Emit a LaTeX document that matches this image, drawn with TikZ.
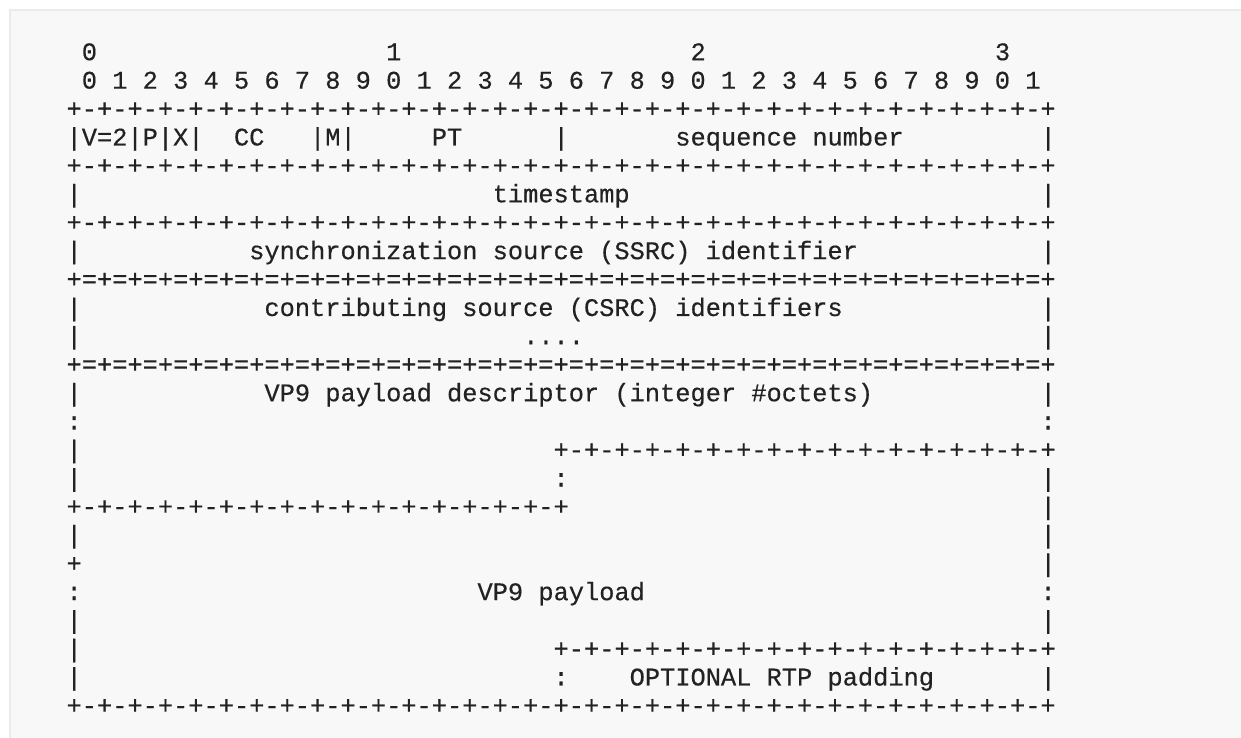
\documentclass[tikz,border=0pt]{standalone}
\usepackage{fontspec}
\usepackage{xcolor}
\newfontfamily\asciifont[FakeBold=0.4]{Liberation Mono}
\definecolor{ink}{HTML}{222222}
\definecolor{paper}{HTML}{F8F8F8}
\definecolor{rim}{HTML}{EBEBEB}
\ExplSyntaxOn
\NewDocumentCommand\bitrun{mm}{\prg_replicate:nn{#1}{#2}}
\ExplSyntaxOff
\newcommand{\padsp}[1]{\bitrun{#1}{\ }}

\begin{document}
\begin{tikzpicture}[x=1pt,y=-1pt]
\tikzset{row/.style = {anchor=base west,inner sep=0pt,text=ink,
	font=\asciifont\fontsize{25.36pt}{28pt}\selectfont}}
% frame
\useasboundingbox (0,0) rectangle (1241,737);
\fill[white] (0,0) rectangle (1241,737);
\filldraw[fill=paper,draw=rim,line width=1.5pt] (10,10) rectangle (1260,760);

% rows
\begin{scope}[shift={(66.4,60.2)},y=-28.42pt]
\node[row] (r0) at (0,0) {\padsp{1}0\padsp{19}1\padsp{19}2\padsp{19}3};
\node[row] (r1) at (0,1) {\padsp{1}0 1 2 3 4 5 6 7 8 9 0 1 2 3 4 5 6 7 8 9 0 1 2 3 4 5 6 7 8 9 0 1};
\node[row] (r2) at (0,2) {\bitrun{32}{+-}+};
\node[row] (r3) at (0,3) {|V=2|P|X|\padsp{2}CC\padsp{3}|M|\padsp{5}PT\padsp{6}|\padsp{7}sequence number\padsp{9}|};
\node[row] (r4) at (0,4) {\bitrun{32}{+-}+};
\node[row] (r5) at (0,5) {|\padsp{27}timestamp\padsp{27}|};
\node[row] (r6) at (0,6) {\bitrun{32}{+-}+};
\node[row] (r7) at (0,7) {|\padsp{11}synchronization source (SSRC) identifier\padsp{12}|};
\node[row] (r8) at (0,8) {\bitrun{32}{+=}+};
\node[row] (r9) at (0,9) {|\padsp{12}contributing source (CSRC) identifiers\padsp{13}|};
\node[row] (r10) at (0,10) {|\padsp{29}....\padsp{30}|};
\node[row] (r11) at (0,11) {\bitrun{32}{+=}+};
\node[row] (r12) at (0,12) {|\padsp{12}VP9 payload descriptor (integer \#octets)\padsp{11}|};
\node[row] (r13) at (0,13) {:\padsp{63}:};
\node[row] (r14) at (0,14) {|\padsp{31}\bitrun{16}{+-}+};
\node[row] (r15) at (0,15) {|\padsp{31}:\padsp{31}|};
\node[row] (r16) at (0,16) {\bitrun{16}{+-}+\padsp{31}|};
\node[row] (r17) at (0,17) {|\padsp{63}|};
\node[row] (r18) at (0,18) {+\padsp{63}|};
\node[row] (r19) at (0,19) {:\padsp{26}VP9 payload\padsp{26}:};
\node[row] (r20) at (0,20) {|\padsp{63}|};
\node[row] (r21) at (0,21) {|\padsp{31}\bitrun{16}{+-}+};
\node[row] (r22) at (0,22) {|\padsp{31}:\padsp{4}OPTIONAL RTP padding\padsp{7}|};
\node[row] (r23) at (0,23) {\bitrun{32}{+-}+};
\end{scope}
\end{tikzpicture}
\end{document}
